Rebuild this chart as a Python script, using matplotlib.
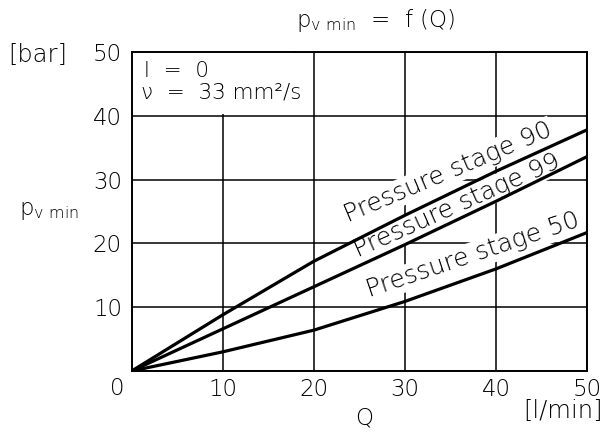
import matplotlib.pyplot as plt
from matplotlib.patches import Rectangle

# flow rate Q [l/min]
q = [0, 10, 20, 30, 40, 50]
# p_v min [bar] per pressure stage
stage_90 = [0, 8.8, 17.2, 24.4, 31.3, 37.8]
stage_99 = [0, 6.6, 13.2, 19.8, 26.6, 33.6]
stage_50 = [0, 3.0, 6.4, 10.9, 16.0, 21.7]
ticks = [0, 10, 20, 30, 40, 50]
tick_labels = ['', '10', '20', '30', '40', '50']

plt.rcParams['font.family'] = ['DejaVu Sans']
plt.rcParams['font.weight'] = 'light'
W, H = 607, 432
fig = plt.figure(figsize=(W / 100, H / 100), dpi=100)
ax = fig.add_axes([131.7 / W, 1 - 371 / H, 455.3 / W, 319 / H])

for ys in (stage_90, stage_99, stage_50):
    ax.plot(q, ys, color='black', lw=2.3, solid_capstyle='butt', zorder=3)

ax.set_xlim(0, 50)
ax.set_ylim(0, 50)
ax.set_xticks(ticks, tick_labels)
ax.set_yticks(ticks, tick_labels)
ax.grid(True, color='black', lw=1.1)
ax.tick_params(length=0, labelsize=16.5)
ax.tick_params(axis='x', pad=5)
ax.tick_params(axis='y', pad=7)
for s in ax.spines.values():
    s.set_linewidth(1.4)
    s.set_zorder(4)

# corner label shared by both axes
ax.text(-1.6, -2.7, '0', ha='center', va='center', fontsize=16.5, clip_on=False)

# blank panel behind the operating conditions
ax.add_patch(Rectangle((0, 40.25), 17.5, 9.75, facecolor='white', edgecolor='none', zorder=2))
ax.text(1.4, 47.1, 'l  =  0', fontsize=15.5, va='center', zorder=2.6)
ax.text(1.0, 43.6, 'ν  =  33 mm²/s', fontsize=15.5, va='center', zorder=2.6)

# curve labels, anchored at the lower left of the text
box = dict(facecolor='white', edgecolor='none', pad=1)
kw = dict(ha='left', va='baseline', rotation_mode='anchor', fontsize=18,
          bbox=box, zorder=2.6)
ax.text(23.75, 23.3, 'Pressure stage 90', rotation=23, **kw)
ax.text(24.85, 17.8, 'Pressure stage 99', rotation=24, **kw)
ax.text(26.15, 11.5, 'Pressure stage 50', rotation=18.6, **kw)

fig.text(376 / W, 1 - 21 / H, r'p$_{\mathregular{v\ min}}$  =  f (Q)', ha='center',
         va='center', fontsize=16.5)
fig.text(8 / W, 1 - 55 / H, '[bar]', ha='left', va='center', fontsize=17.5)
fig.text(19 / W, 1 - 211 / H, r'p$_{\mathregular{v\ min}}$', ha='left', va='center',
         fontsize=16.5)
fig.text(364 / W, 1 - 418 / H, 'Q', ha='center', va='center', fontsize=16.5)
fig.text(603 / W, 1 - 411 / H, '[l/min]', ha='right', va='center', fontsize=17.5)

fig.savefig('out.png', dpi=100)
